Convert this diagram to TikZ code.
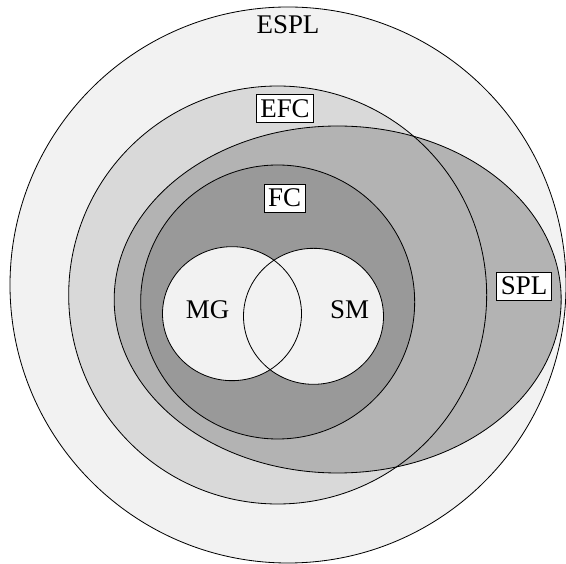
\documentclass[tikz,border=0pt]{standalone}
\usepackage{fontspec}
\setmainfont{Liberation Serif}
\usepackage{xcolor}
\usepackage{tikz}

\definecolor{esplgray}{HTML}{F2F2F2}
\definecolor{efcgray}{HTML}{D9D9D9}
\definecolor{splgray}{HTML}{B3B3B3}
\definecolor{fcgray}{HTML}{999999}

\begin{document}
\begin{tikzpicture}[
    ring/.style={draw=black, line width=0.7pt},
    tag/.style={draw=black, fill=white, line width=0.7pt, inner xsep=3.5pt, inner ysep=0pt, minimum height=0.84cm},
    font=\fontsize{23}{27}\selectfont]
    \useasboundingbox (0,0) rectangle (16.98,16.89);
    % fills first, outlines on top
    \fill[esplgray] (8.64,8.34) circle (8.34);
    \fill[efcgray] (8.33,8.04) circle (6.27);
    \fill[splgray] (10.13,7.905) ellipse (6.705 and 5.205);
    \fill[fcgray] (8.33,7.83) circle (4.11);
    \fill[esplgray] (6.96,7.48) ellipse (2.085 and 2.01);
    \fill[esplgray] (9.405,7.40) ellipse (2.1 and 2.04);
    \draw[ring] (8.64,8.34) circle (8.34);
    \draw[ring] (8.33,8.04) circle (6.27);
    \draw[ring] (10.13,7.905) ellipse (6.705 and 5.205);
    \draw[ring] (8.33,7.83) circle (4.11);
    \draw[ring] (6.96,7.48) ellipse (2.085 and 2.01);
    \draw[ring] (9.405,7.40) ellipse (2.1 and 2.04);
    \node (espl) at (8.64,16.14) {ESPL};
    \node[tag] (efc) at (8.55,13.63) {EFC};
    \node[tag] (fc) at (8.535,10.95) {FC};
    \node[tag] (spl) at (15.72,8.31) {SPL};
    \node (mg) at (6.23,7.60) {MG};
    \node (sm) at (10.485,7.59) {SM};
\end{tikzpicture}
\end{document}
